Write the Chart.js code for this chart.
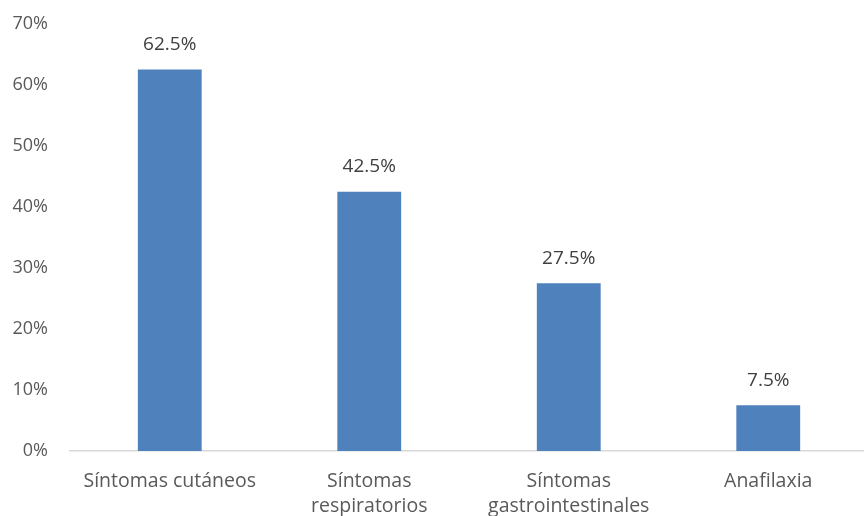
<!DOCTYPE html>
<html><head><meta charset="utf-8">
<script src="https://cdn.jsdelivr.net/npm/chart.js@4/dist/chart.umd.min.js"></script>
<style>html,body{margin:0;padding:0;overflow:hidden;background:#fff}#wrap{width:870px;height:525px;margin-top:-9px}</style>
</head><body><div id="wrap"><canvas id="c" width="870" height="525"></canvas></div>
<script>
const categories = [["Síntomas cutáneos"], ["Síntomas","respiratorios"], ["Síntomas","gastrointestinales"], ["Anafilaxia"]];
const values = [62.5, 42.5, 27.5, 7.5];
const dataLabels = ["62.5%", "42.5%", "27.5%", "7.5%"];
const yTicks = [0, 10, 20, 30, 40, 50, 60, 70];

const FONT = "'Open Sans', sans-serif";
const TXT = '#595959';

const labelPlugin = {
  id: 'valLabels',
  afterDatasetsDraw(chart) {
    const ctx = chart.ctx;
    const meta = chart.getDatasetMeta(0);
    ctx.save();
    ctx.font = "19px " + FONT;
    ctx.fillStyle = '#404040';
    ctx.textAlign = 'center';
    ctx.textBaseline = 'middle';
    meta.data.forEach((bar, i) => {
      ctx.fillText(dataLabels[i], bar.x, bar.y - 25);
    });
    ctx.restore();
  }
};

new Chart(document.getElementById('c'), {
  type: 'bar',
  data: { labels: categories, datasets: [{ data: values, backgroundColor: '#4F81BD', barPercentage: 0.32, categoryPercentage: 1 }] },
  options: {
    responsive: false, animation: false,
    layout: { padding: { top: 13, right: 2, bottom: 0, left: 0 } },
    plugins: { legend: { display: false }, tooltip: { enabled: false } },
    scales: {
      x: {
        grid: { display: false, drawTicks: false },
        border: { display: true, color: '#D9D9D9', width: 1.5 },
        ticks: { color: TXT, font: { family: FONT, size: 19.5, lineHeight: 1.28 }, padding: 18, maxRotation: 0, autoSkip: false },
        afterFit(s) { s.height = 65; }
      },
      y: {
        min: 0, max: 70,
        grid: { display: false, drawTicks: false },
        border: { display: false },
        afterBuildTicks(s) { s.ticks = yTicks.map(v => ({ value: v })); },
        ticks: { color: TXT, font: { family: FONT, size: 18 }, padding: 22, callback: v => v + '%' },
        afterFit(s) { s.width = 70; }
      }
    }
  },
  plugins: [labelPlugin]
});
</script></body></html>
